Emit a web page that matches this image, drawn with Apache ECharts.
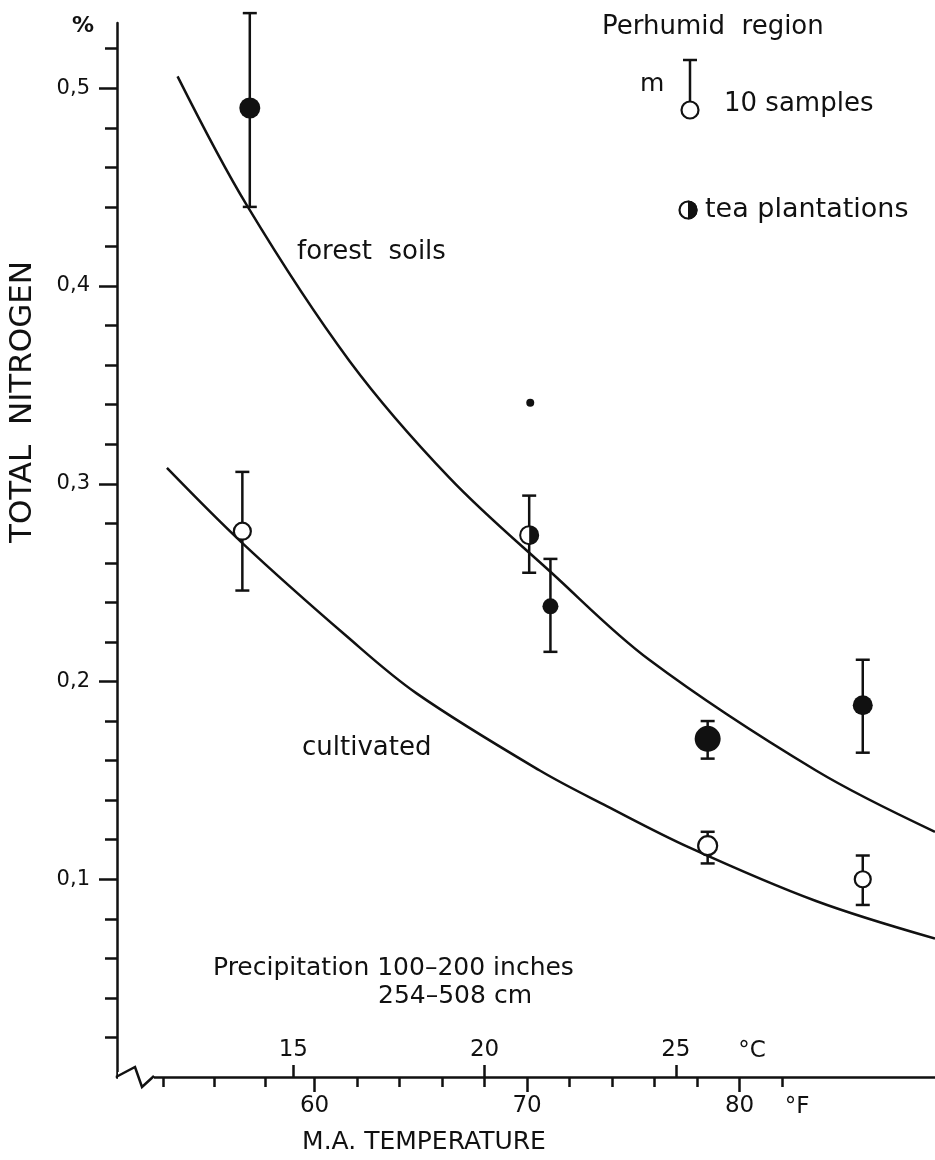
<!DOCTYPE html>
<html>
<head>
<meta charset="utf-8">
<script src="https://cdn.jsdelivr.net/npm/echarts@6/dist/echarts.min.js"></script>
<style>
  html, body { margin: 0; padding: 0; background: #fff; }
  #chart { width: 935px; height: 1160px; }
</style>
</head>
<body>
<div id="chart"></div>
<script>
// Mean annual temperature (°F) on the x axis, total nitrogen (%) on the y axis.
const fRange = [50.7, 89.2];
const nRange = [0, 0.533];

const fLabelValues = [60, 70, 80];
const fMinorTicks = [52.9, 55.3, 57.7, 62, 64, 66, 68, 72, 74, 76, 78, 82];
const cLabelValues = [15, 20, 25];
const nLabelValues = [0.1, 0.2, 0.3, 0.4, 0.5];
const nMinorTicks = [0.02, 0.04, 0.06, 0.08, 0.12, 0.14, 0.16, 0.18, 0.22, 0.24, 0.26, 0.28,
                     0.32, 0.34, 0.36, 0.38, 0.42, 0.44, 0.46, 0.48, 0.52];

// Trend curves [°F, N %]
const forestCurve = [[53.55, 0.506], [56.8, 0.441], [61.65, 0.362], [66.35, 0.303], [71.15, 0.255],
                     [75.75, 0.211], [83.6, 0.155], [89.2, 0.124]];
const cultivatedCurve = [[53.05, 0.308], [56.6, 0.270], [61.5, 0.223], [64.8, 0.194], [70.6, 0.155],
                         [73.75, 0.137], [77.65, 0.116], [83.6, 0.089], [89.2, 0.070]];

// Site means with range: [°F, mean, low, high]
const forestPoints = [[56.95, 0.490, 0.440, 0.538], [71.1, 0.238, 0.215, 0.262],
                      [78.5, 0.171, 0.161, 0.180], [85.8, 0.188, 0.164, 0.211]];
const teaPoints = [[70.1, 0.274, 0.255, 0.294]];
const cultivatedPoints = [[56.6, 0.276, 0.246, 0.306], [78.5, 0.117, 0.108, 0.124],
                          [85.8, 0.100, 0.087, 0.112]];
const singleSample = [[70.15, 0.341]];

// marker diameters (px)
const forestSizes = [21, 16, 26, 20];
const teaSizes = [20];
const cultivatedSizes = [17, 19, 16];
const singleSizes = [8];

const INK = '#111111';
const FONT = '"DejaVu Sans", "Liberation Sans", sans-serif';
const LW = 2.5;

const fToC = f => (f - 32) / 1.8;

// circle outline with the right half filled
const HALF_DISC = 'path://M100 0A100 100 0 1 1 100 200A100 100 0 1 1 100 0ZM100 20A80 80 0 0 0 100 180Z';

function errorBar(params, api) {
  const x = api.value(0);
  const top = api.coord([x, api.value(3)]);
  const bot = api.coord([x, api.value(2)]);
  const cap = 7;
  const st = { stroke: INK, lineWidth: LW };
  return {
    type: 'group',
    children: [
      { type: 'line', shape: { x1: top[0], y1: top[1], x2: bot[0], y2: bot[1] }, style: st },
      { type: 'line', shape: { x1: top[0] - cap, y1: top[1], x2: top[0] + cap, y2: top[1] }, style: st },
      { type: 'line', shape: { x1: bot[0] - cap, y1: bot[1], x2: bot[0] + cap, y2: bot[1] }, style: st }
    ]
  };
}

const axisLineStyle = { color: INK, width: LW };
const labelText = { color: INK, fontFamily: FONT };

const chart = echarts.init(document.getElementById('chart'), null, { renderer: 'canvas' });

function txt(x, y, text, size, extra) {
  return {
    type: 'text', x: x, y: y, z: 100,
    style: Object.assign({
      text: text, fill: INK, fontSize: size, fontFamily: FONT, verticalAlign: 'middle'
    }, extra || {})
  };
}

chart.setOption({
  backgroundColor: '#ffffff',
  animation: false,
  grid: { left: 117, right: 0, top: 23, bottom: 83 },
  xAxis: [
    {
      type: 'value', position: 'bottom', min: fRange[0], max: fRange[1],
      axisLine: { show: true, lineStyle: axisLineStyle },
      axisTick: { show: true, length: 15, lineStyle: axisLineStyle, customValues: fLabelValues },
      axisLabel: Object.assign({ fontSize: 23, margin: 18, customValues: fLabelValues }, labelText),
      splitLine: { show: false }
    },
    {
      type: 'value', position: 'bottom', min: fRange[0], max: fRange[1],
      axisLine: { show: false },
      axisTick: { show: true, length: 10, lineStyle: axisLineStyle, customValues: fMinorTicks },
      axisLabel: { show: false },
      splitLine: { show: false }
    },
    {
      type: 'value', position: 'bottom', min: fToC(fRange[0]), max: fToC(fRange[1]),
      axisLine: { show: false },
      axisTick: { show: true, inside: true, length: 12, lineStyle: axisLineStyle, customValues: cLabelValues },
      axisLabel: Object.assign({ inside: true, fontSize: 23, margin: 15, customValues: cLabelValues }, labelText),
      splitLine: { show: false }
    }
  ],
  yAxis: [
    {
      type: 'value', position: 'left', min: nRange[0], max: nRange[1],
      axisLine: { show: true, lineStyle: axisLineStyle },
      axisTick: { show: true, length: 18, lineStyle: axisLineStyle, customValues: nLabelValues },
      axisLabel: Object.assign({
        fontSize: 21, margin: 27, customValues: nLabelValues,
        formatter: v => v.toFixed(1).replace('.', ',')
      }, labelText),
      splitLine: { show: false }
    },
    {
      type: 'value', position: 'left', min: nRange[0], max: nRange[1],
      axisLine: { show: false },
      axisTick: { show: true, length: 12, lineStyle: axisLineStyle, customValues: nMinorTicks },
      axisLabel: { show: false },
      splitLine: { show: false }
    }
  ],
  series: [
    {
      name: 'forest soils', type: 'line', data: forestCurve, smooth: 0.35,
      showSymbol: false, silent: true, z: 2,
      lineStyle: { color: INK, width: LW }
    },
    {
      name: 'cultivated', type: 'line', data: cultivatedCurve, smooth: 0.35,
      showSymbol: false, silent: true, z: 2,
      lineStyle: { color: INK, width: LW }
    },
    {
      name: 'ranges', type: 'custom', renderItem: errorBar, z: 3,
      data: forestPoints.concat(teaPoints, cultivatedPoints),
      encode: { x: 0, y: 1 }
    },
    {
      name: 'forest means', type: 'scatter', data: forestPoints.map(p => [p[0], p[1]]), z: 4,
      symbol: 'circle', symbolSize: (v, p) => forestSizes[p.dataIndex],
      itemStyle: { color: INK, opacity: 1 }
    },
    {
      name: 'tea plantations', type: 'scatter', data: teaPoints.map(p => [p[0], p[1]]), z: 4,
      symbol: HALF_DISC, symbolSize: (v, p) => teaSizes[p.dataIndex],
      itemStyle: { color: INK, opacity: 1 }
    },
    {
      name: 'tea plantations fill', type: 'scatter', data: teaPoints.map(p => [p[0], p[1]]), z: 3,
      symbol: 'circle', symbolSize: (v, p) => teaSizes[p.dataIndex] - 2,
      itemStyle: { color: '#ffffff', opacity: 1 }
    },
    {
      name: 'cultivated means', type: 'scatter', data: cultivatedPoints.map(p => [p[0], p[1]]), z: 4,
      symbol: 'circle', symbolSize: (v, p) => cultivatedSizes[p.dataIndex],
      itemStyle: { color: '#ffffff', borderColor: INK, borderWidth: 2.2, opacity: 1 }
    },
    {
      name: 'single sample', type: 'scatter', data: singleSample, z: 4,
      symbol: 'circle', symbolSize: (v, p) => singleSizes[p.dataIndex],
      itemStyle: { color: INK, opacity: 1 }
    }
  ],
  graphic: [
    // break in the temperature axis near the origin
    { type: 'rect', z: 90, shape: { x: 118, y: 1072, width: 36, height: 10 }, style: { fill: '#ffffff' } },
    { type: 'polyline', z: 91, shape: { points: [[116, 1077], [135, 1067], [142, 1087], [154, 1076]] },
      style: { stroke: INK, lineWidth: LW, fill: null } },

    txt(83, 26, '%', 22, { fontWeight: 'bold', align: 'center' }),
    {
      type: 'text', z: 100, x: 23, y: 402, rotation: Math.PI / 2,
      style: { text: 'TOTAL  NITROGEN', fill: INK, fontSize: 31, fontFamily: FONT, align: 'center', verticalAlign: 'middle' }
    },
    txt(424, 1142, 'M.A. TEMPERATURE', 25, { align: 'center' }),
    txt(752, 1051, '°C', 23, { align: 'center' }),
    txt(797, 1107, '°F', 23, { align: 'center' }),

    // key
    txt(602, 27, 'Perhumid  region', 26),
    txt(640, 84, 'm', 25),
    { type: 'line', z: 100, shape: { x1: 690, y1: 60, x2: 690, y2: 102 }, style: { stroke: INK, lineWidth: LW } },
    { type: 'line', z: 100, shape: { x1: 683, y1: 60, x2: 697, y2: 60 }, style: { stroke: INK, lineWidth: LW } },
    { type: 'circle', z: 101, shape: { cx: 690, cy: 110, r: 8.5 }, style: { fill: '#ffffff', stroke: INK, lineWidth: 2.2 } },
    txt(724, 104, '10 samples', 26),
    { type: 'circle', z: 100, shape: { cx: 688, cy: 210, r: 8.5 }, style: { fill: '#ffffff', stroke: INK, lineWidth: 2.2 } },
    { type: 'sector', z: 101, shape: { cx: 688, cy: 210, r: 9.6, r0: 0, startAngle: -Math.PI / 2, endAngle: Math.PI / 2 },
      style: { fill: INK } },
    txt(705, 210, 'tea plantations', 27),

    // curve names and notes
    txt(297, 252, 'forest  soils', 26),
    txt(302, 748, 'cultivated', 26),
    txt(213, 968, 'Precipitation 100–200 inches', 25),
    txt(378, 996, '254–508 cm', 25)
  ]
});
</script>
</body>
</html>
